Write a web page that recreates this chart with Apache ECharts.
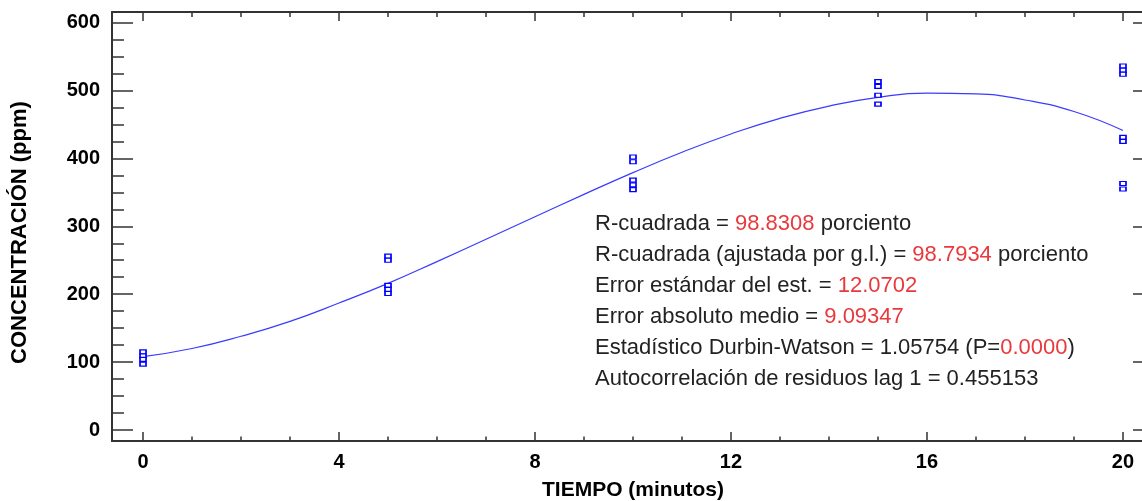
<!DOCTYPE html>
<html><head><meta charset="utf-8">
<script src="https://cdn.jsdelivr.net/npm/echarts@6/dist/echarts.min.js"></script>
<style>html,body{margin:0;padding:0;background:#fff}#c{width:1142px;height:501px}</style>
</head><body><div id="c"></div>
<script>
// ---- data ----
const xMajorTicks = [0, 4, 8, 12, 16, 20];
const xMinorTicks = [0,1,2,3,4,5,6,7,8,9,10,11,12,13,14,15,16,17,18,19,20];
const yMajorTicks = [0, 100, 200, 300, 400, 500, 600];
const yMinorTicks = [0,25,50,75,100,125,150,175,200,225,250,275,300,325,350,375,400,425,450,475,500,525,550,575,600];

const obsTime = [0,0,0,0, 5,5,5,5,5, 10,10,10,10,10, 15,15,15,15, 20,20,20,20,20,20,20];
const obsConc = [115,109,104,97, 256,250,213,207,201, 402,395,368,361,354, 513,506,493,480, 536,530,524,431,425,363,355];

const fitTime = [0,1,2,3,4,5,6,7,8,9,10,11,12,13,14,15,16,17,18,19,20];
const fitConc = [108,120,138,160,187,216,248,281,314,347,379,409,436,459,477,490,496,495,486,469,441];

const statLabels = ['R-cuadrada = ', 'R-cuadrada (ajustada por g.l.) = ', 'Error estándar del est. = ', 'Error absoluto medio = ', 'Estadístico Durbin-Watson = 1.05754 (P=', 'Autocorrelación de residuos lag 1 = 0.455153'];
const statValues = ['98.8308', '98.7934', '12.0702', '9.09347', '0.0000', ''];
const statSuffix = [' porciento', ' porciento', '', '', ')', ''];

const xName = 'TIEMPO (minutos)';
const yName = 'CONCENTRACIÓN (ppm)';

// ---- chart ----
const FF = '"Liberation Sans", Arial, sans-serif';
const AX = '#333';
const X_MIN = -0.633, X_MAX = 20.633, Y_MIN = -16.2, Y_MAX = 615.6;

function xAx(pos, ticks, len, opts) {
  return Object.assign({
    type: 'value', position: pos, min: X_MIN, max: X_MAX,
    splitLine: {show: false},
    axisLine: {show: false, onZero: false},
    axisTick: {show: true, inside: true, length: len, customValues: ticks, lineStyle: {color: AX, width: 1.5}},
    axisLabel: {show: false}
  }, opts || {});
}
function yAx(pos, ticks, len, opts) {
  return Object.assign({
    type: 'value', position: pos, min: Y_MIN, max: Y_MAX,
    splitLine: {show: false},
    axisLine: {show: false, onZero: false},
    axisTick: {show: true, inside: true, length: len, customValues: ticks, lineStyle: {color: AX, width: 1.5}},
    axisLabel: {show: false}
  }, opts || {});
}
const axLine = {show: true, onZero: false, lineStyle: {color: AX, width: 2}};

const labelStyle = {show: true, color: '#000', fontSize: 20, fontWeight: 'bold', fontFamily: FF};

const rich = {
  k: {fill: '#222', fontSize: 22, lineHeight: 31, fontFamily: FF},
  r: {fill: '#e8393c', fontSize: 22, lineHeight: 31, fontFamily: FF}
};
const statText = statLabels.map((l, i) => {
  let s = '{k|' + l + '}';
  if (statValues[i]) s += '{r|' + statValues[i] + '}';
  if (statSuffix[i]) s += '{k|' + statSuffix[i] + '}';
  return s;
}).join('\n');

const chart = echarts.init(document.getElementById('c'), null, {renderer: 'canvas'});
chart.setOption({
  animation: false,
  backgroundColor: '#fff',
  grid: {left: 112, top: 12, width: 1042, height: 429, containLabel: false, outerBoundsMode: 'none'},
  xAxis: [
    xAx('bottom', xMajorTicks, 9, {
      axisLine: axLine,
      axisLabel: Object.assign({}, labelStyle, {customValues: xMajorTicks, margin: 11}),
      name: xName, nameLocation: 'middle', nameGap: 39,
      nameTextStyle: {color: '#000', fontSize: 21, fontWeight: 'bold', fontFamily: FF}
    }),
    xAx('bottom', xMinorTicks, 4.5),
    xAx('top', xMajorTicks, 9, {axisLine: axLine}),
    xAx('top', xMinorTicks, 5)
  ],
  yAxis: [
    yAx('left', yMajorTicks, 21, {
      axisLine: axLine,
      axisLabel: Object.assign({}, labelStyle, {customValues: yMajorTicks, margin: 12}),
      name: yName, nameLocation: 'middle', nameGap: 81,
      nameTextStyle: {color: '#000', fontSize: 22, fontWeight: 'bold', fontFamily: FF, padding: [0, 12, 0, 0]}
    }),
    yAx('left', yMinorTicks, 12),
    yAx('right', yMajorTicks, 21, {axisLine: axLine}),
    yAx('right', yMinorTicks, 12)
  ],
  series: [
    {
      type: 'line', xAxisIndex: 0, yAxisIndex: 0,
      data: fitTime.map((t, i) => [t, fitConc[i]]),
      smooth: true, showSymbol: false, symbol: 'none',
      lineStyle: {color: '#3b3bff', width: 1.2}, z: 2
    },
    {
      type: 'scatter', xAxisIndex: 0, yAxisIndex: 0,
      data: obsTime.map((t, i) => [t, obsConc[i]]),
      symbol: 'rect', symbolSize: [6, 4],
      itemStyle: {color: '#fff', borderColor: '#0000ff', borderWidth: 1.4, opacity: 1}, z: 3
    }
  ],
  graphic: [{
    type: 'text', left: 595, top: 213, z: 10,
    style: {text: statText, rich: rich, fill: '#222', fontSize: 22, fontFamily: FF}
  }]
});
</script></body></html>
